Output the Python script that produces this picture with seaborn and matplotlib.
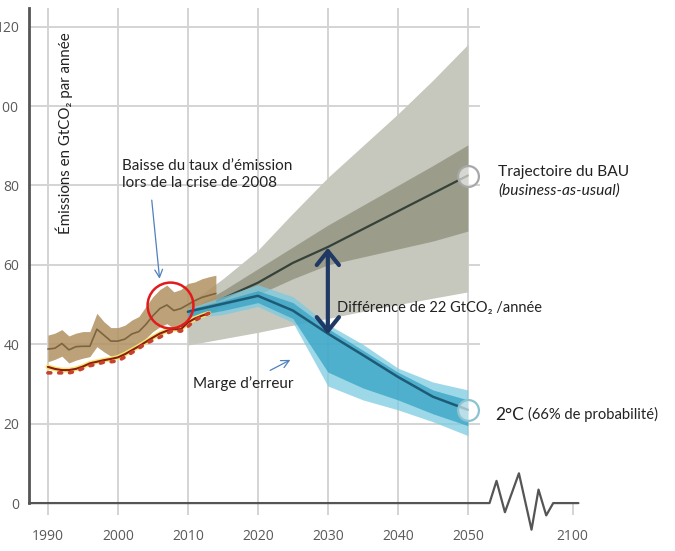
import matplotlib
matplotlib.use("Agg")
import matplotlib.pyplot as plt
import seaborn as sns

# ------------------------------------------------------------
# Data (GtCO2 per year)
# ------------------------------------------------------------
hist_years = list(range(1990, 2015))
hist_mid = [38.8, 39.0, 40.2, 38.6, 39.4, 39.5, 39.5, 43.8, 42.3, 40.8,
            40.8, 41.3, 42.6, 43.2, 45.0, 47.2, 49.0, 49.9, 48.5, 49.0,
            50.0, 51.0, 51.8, 52.3, 52.8]
hist_low = [35.6, 36.2, 37.0, 35.3, 36.0, 36.5, 36.9, 39.4, 38.1, 37.0,
            37.0, 37.7, 38.5, 39.4, 41.5, 43.2, 44.4, 45.2, 44.0, 44.2,
            45.7, 46.5, 47.0, 47.6, 48.2]
hist_high = [42.3, 42.8, 43.7, 42.1, 42.8, 43.2, 43.2, 47.8, 45.7, 44.2,
             44.2, 44.8, 46.1, 47.0, 49.5, 52.0, 53.8, 54.9, 53.2, 53.8,
             55.3, 55.7, 56.5, 57.0, 57.4]

obs_years = list(range(1990, 2014))
obs_line = [34.3, 33.8, 33.5, 33.5, 33.8, 34.4, 35.2, 35.6, 36.0, 36.3,
            36.7, 37.5, 38.5, 39.5, 40.6, 41.7, 42.7, 43.4, 43.8, 43.8,
            45.5, 46.5, 47.2, 47.8]
obs_dots = [32.8, 32.8, 32.8, 32.8, 33.2, 33.9, 34.6, 35.0, 35.5, 35.6,
            35.8, 36.8, 37.9, 39.0, 40.2, 41.0, 41.8, 42.8, 43.5, 43.3,
            44.5, 46.0, 47.0, 47.8]

proj_years = [2010, 2015, 2020, 2025, 2030, 2035, 2040, 2045, 2050]
bau_mid = [48.0, 51.5, 55.5, 60.5, 64.5, 69.0, 73.5, 78.0, 82.5]
bau_in_low = [47.0, 49.5, 52.5, 56.5, 60.0, 62.0, 64.0, 66.0, 68.5]
bau_in_high = [48.5, 53.5, 59.0, 64.5, 70.0, 75.0, 80.0, 85.0, 90.2]
bau_out_low = [39.8, 41.4, 43.0, 44.8, 46.5, 48.3, 50.0, 51.6, 53.2]
bau_out_high = [50.0, 56.5, 63.7, 73.0, 82.0, 90.0, 98.0, 106.5, 115.5]

deg2_mid = [48.2, 50.2, 52.2, 48.5, 42.7, 37.3, 31.8, 26.8, 23.5]
deg2_in_low = [47.0, 48.5, 50.5, 46.5, 33.0, 29.0, 26.0, 22.5, 19.5]
deg2_in_high = [48.8, 51.0, 53.5, 50.5, 44.0, 38.5, 33.0, 28.5, 26.0]
deg2_out_low = [46.5, 47.5, 49.5, 45.5, 29.5, 26.0, 23.5, 20.5, 17.0]
deg2_out_high = [49.0, 52.0, 55.0, 52.0, 45.0, 40.0, 34.0, 30.5, 28.5]

crisis_point = (2007.4, 49.8)

# x axis is compressed after 2050: 2100 sits at position 2065
x_tick_pos = [1990, 2000, 2010, 2020, 2030, 2040, 2050, 2065]
x_tick_labels = ["1990", "2000", "2010", "2020", "2030", "2040", "2050", "2100"]
y_ticks = [0, 20, 40, 60, 80, 100, 120]

# axis break zigzag
break_x = [1987.3, 2053.1, 2054.1, 2055.3, 2057.3, 2059.1, 2060.1, 2061.2, 2062.2, 2065.8]
break_y = [0, 0, 5.6, -2.3, 7.5, -6.7, 3.4, -3.1, 0, 0]

# ------------------------------------------------------------
# Figure
# ------------------------------------------------------------
sns.set_style("white")
plt.rcParams["font.family"] = ["Lato", "DejaVu Sans"]

XMIN, XMAX = 1987.3, 2074.6
YMIN, YMAX = -3, 124.7

fig = plt.figure(figsize=(6.75, 5.51), dpi=100)
ax = fig.add_axes([29 / 675, 1 - 515 / 551, 611 / 675, 507 / 551])
ax.set_xlim(XMIN, XMAX)
ax.set_ylim(YMIN, YMAX)

grid_c = "#d4d4d4"
ax.vlines(x_tick_pos[:-1], YMIN, YMAX, color=grid_c, lw=1.4, zorder=0)
ax.vlines(x_tick_pos[-1], YMIN, 0, color=grid_c, lw=1.4, zorder=0)
ax.hlines(y_ticks[1:], XMIN, 2051.7, color=grid_c, lw=1.4, zorder=0)

# BAU fan
ax.fill_between(proj_years, bau_out_low, bau_out_high, color="#c6c7bd", lw=0, zorder=1)
ax.fill_between(proj_years, bau_in_low, bau_in_high, color="#9b9c8a", lw=0, zorder=2)
sns.lineplot(x=proj_years, y=bau_mid, ax=ax, color="#34423a", lw=1.6, zorder=3)

# historical band
ax.fill_between(hist_years, hist_low, hist_high, color="#b39466", alpha=0.88, lw=0, zorder=4)
sns.lineplot(x=hist_years, y=hist_mid, ax=ax, color="#7d6440", lw=1.2, zorder=5)

# 2 degree pathway
ax.fill_between(proj_years, deg2_out_low, deg2_out_high, color="#7ccbe2", alpha=0.75, lw=0, zorder=6)
ax.fill_between(proj_years, deg2_in_low, deg2_in_high, color="#2f9fc2", alpha=0.7, lw=0, zorder=7)
sns.lineplot(x=proj_years, y=deg2_mid, ax=ax, color="#1d5a76", lw=1.8, zorder=8)

# observations
sns.lineplot(x=obs_years, y=obs_line, ax=ax, color="#f2e66c", lw=3.5, zorder=9)
sns.lineplot(x=obs_years, y=obs_line, ax=ax, color="#8c1c13", lw=1.5, zorder=10)
ax.plot(obs_years, obs_dots, color="#c8402e", lw=2.6, ls=(0, (0.8, 2.2)),
        dash_capstyle="round", zorder=10)

# end markers
ax.plot(proj_years[-1], bau_mid[-1], "o", ms=15, mfc=(1, 1, 1, 0.6),
        mec="#a8a8a8", mew=1.6, zorder=11, clip_on=False)
ax.plot(proj_years[-1], deg2_mid[-1], "o", ms=15, mfc=(1, 1, 1, 0.6),
        mec="#8cc3d0", mew=1.6, zorder=11, clip_on=False)

# red circle for 2008 crisis
ax.plot(*crisis_point, "o", ms=33, mfc="none", mec="#e31a1c", mew=1.8, zorder=12)

# axes styling
for s in ["top", "right", "bottom"]:
    ax.spines[s].set_visible(False)
ax.spines["left"].set_bounds(0, YMAX)
ax.spines["left"].set_color("#555555")
ax.spines["left"].set_linewidth(2)
ax.plot(break_x, break_y, color="#555555", lw=1.6, clip_on=False, zorder=13)

ax.set_yticks(y_ticks)
ax.set_xticks(x_tick_pos, x_tick_labels)
ax.tick_params(axis="y", length=5, width=1.2, color="#555555", pad=2,
               labelsize=10, labelcolor="#5a5a5a")
ax.tick_params(axis="x", length=0, pad=10, labelsize=10, labelcolor="#5a5a5a")
for lab in ax.get_xticklabels() + ax.get_yticklabels():
    lab.set_family(["Open Sans", "DejaVu Sans"])
ax.set_xlabel("")
ax.set_ylabel("")

# ------------------------------------------------------------
# Annotations
# ------------------------------------------------------------
txt_c = "#222222"
ax.text(1992.4, 93.2, "Émissions en GtCO₂ par année", rotation=90,
        ha="center", va="center", fontsize=10.8, color=txt_c)
ax.text(2000.6, 82.7, "Baisse du taux d’émission\nlors de la crise de 2008",
        ha="left", va="center", fontsize=11, linespacing=1.3, color=txt_c)
ax.annotate("", xy=(2006.0, 55.8), xytext=(2004.8, 77.0),
            arrowprops=dict(arrowstyle="->", color="#4f81bd", lw=0.9, mutation_scale=14))
ax.text(2010.7, 30.2, "Marge d’erreur", ha="left", va="center",
        fontsize=11, color=txt_c)
ax.annotate("", xy=(2025.0, 36.4), xytext=(2021.4, 33.1),
            arrowprops=dict(arrowstyle="->", color="#4f81bd", lw=0.9, mutation_scale=14))
ax.annotate("", xy=(2030, 42.5), xytext=(2030, 64.3),
            arrowprops=dict(arrowstyle="<->, head_length=0.5, head_width=0.4",
                            color="#1f3864", lw=3, mutation_scale=20,
                            shrinkA=0, shrinkB=0), zorder=14)
ax.text(2031.3, 49.1, "Différence de 22 GtCO₂ /année", ha="left", va="center",
        fontsize=10.5, color=txt_c, zorder=14)
ax.text(2054.3, 83.4, "Trajectoire du BAU", ha="left", va="center",
        fontsize=11.2, color=txt_c)
ax.text(2054.3, 78.8, "(business-as-usual)", ha="left", va="center",
        fontsize=11.2, style="italic", color=txt_c)
deg_txt = ax.text(2053.9, 22.2, "2°C", ha="left", va="center", fontsize=12.5, color=txt_c)
ax.annotate("(66% de probabilité)", xy=(1, 0.5), xycoords=deg_txt,
            xytext=(3, 0), textcoords="offset points", ha="left", va="center",
            fontsize=10.6, color=txt_c)

fig.savefig("out.png", dpi=100)
